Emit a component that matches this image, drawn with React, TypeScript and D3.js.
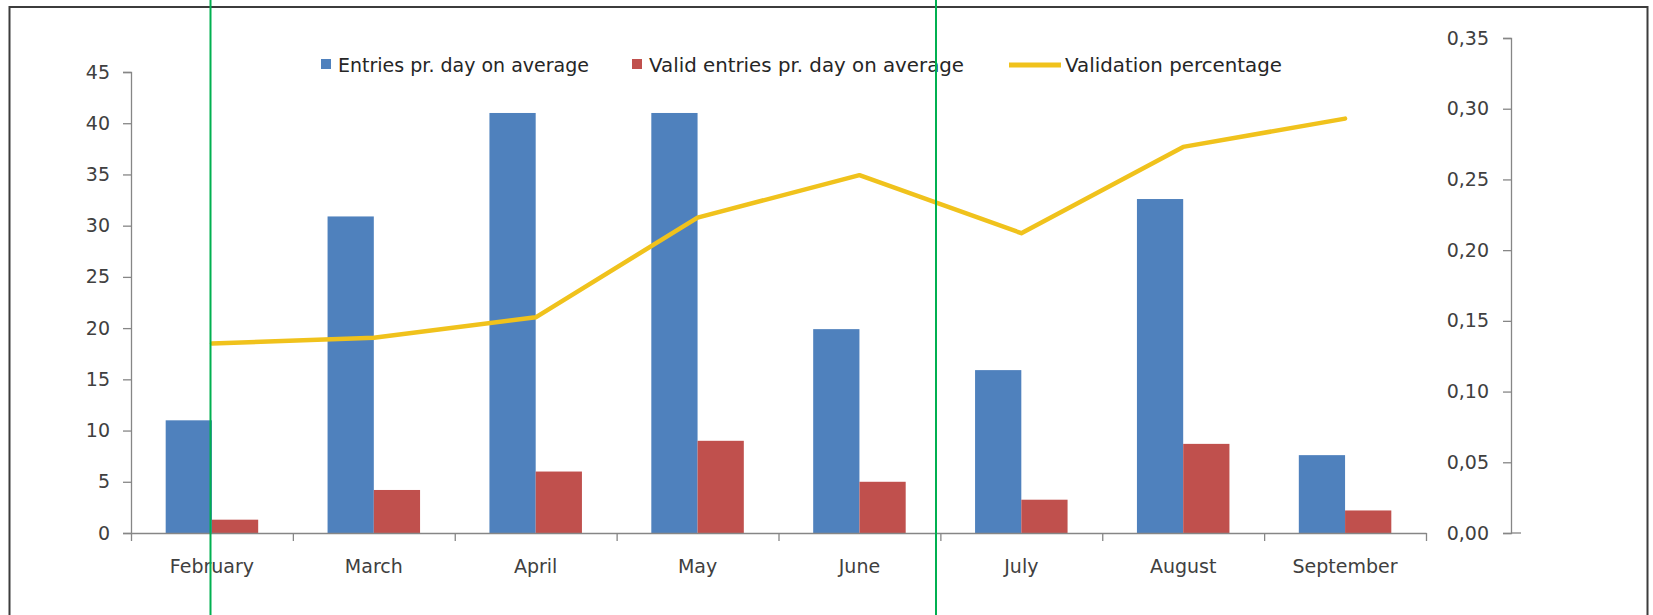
import { useRef, useEffect } from "react";
import { select, axisLeft, axisBottom, scaleLinear, scaleBand, line, format } from "d3";

const categories = ["February", "March", "April", "May", "June", "July", "August", "September"];
const entries = [11.0, 30.9, 41.0, 41.0, 19.9, 15.9, 32.6, 7.6];
const validEntries = [1.3, 4.2, 6.0, 9.0, 5.0, 3.25, 8.7, 2.2];
const validation = [0.134, 0.138, 0.1525, 0.223, 0.253, 0.212, 0.273, 0.293];
const leftTicks = [0, 5, 10, 15, 20, 25, 30, 35, 40, 45];
const rightTicks = [0, 0.05, 0.1, 0.15, 0.2, 0.25, 0.3, 0.35];
const seriesNames = ["Entries pr. day on average", "Valid entries pr. day on average", "Validation percentage"];

const W = 1653;
const H = 615;
const BLUE = "#4f81bd";
const RED = "#c0504d";
const GOLD = "#f0c21c";
const AXIS = "#868686";
const TEXT = "#404040";
const FONT = "DejaVu Sans, Verdana, sans-serif";

// plot area
const left = 131;
const right = 1426;
const bottom = 533;
const rightAxisX = 1511;

const x = scaleBand<string>()
  .domain(categories)
  .range([left, right])
  .paddingInner(1.5 / 3.5)
  .paddingOuter(0.75 / 3.5);

const xSub = scaleBand<string>().domain(["entries", "valid"]).range([0, x.bandwidth()]);

const xEdges = scaleLinear().domain([0, categories.length]).range([left, right]);

const yLeft = scaleLinear().domain([0, 45]).range([bottom, 72]);
const yRight = scaleLinear().domain([0, 0.35]).range([bottom, 38]);

const comma = (v: number) => format(".2f")(v).replace(".", ",");

function styleAxis(g: any) {
  g.selectAll("path.domain").attr("stroke", AXIS).attr("stroke-width", 1.3);
  g.selectAll(".tick line").attr("stroke", AXIS).attr("stroke-width", 1.3);
  g.selectAll(".tick text")
    .attr("fill", TEXT)
    .style("font-family", FONT)
    .style("font-size", "19px");
}

export default function App() {
  const svgRef = useRef<SVGSVGElement>(null);

  useEffect(() => {
    document.body.style.margin = "0";
    document.body.style.overflow = "hidden";
    const svg = select(svgRef.current);

    const gl = svg.select<SVGGElement>("#y-left");
    gl.call(axisLeft(yLeft).tickValues(leftTicks).tickSize(8).tickSizeOuter(8).tickPadding(13) as any);
    styleAxis(gl);

    const gr = svg.select<SVGGElement>("#y-right");
    gr.call(
      axisLeft(yRight).tickValues(rightTicks).tickSize(8).tickSizeOuter(8).tickPadding(14).tickFormat(comma as any) as any
    );
    styleAxis(gr);

    const ge = svg.select<SVGGElement>("#x-edges");
    ge.call(
      axisBottom(xEdges)
        .tickValues(categories.map((_, i) => i).concat([categories.length]))
        .tickSize(8)
        .tickSizeOuter(0)
        .tickFormat(() => "") as any
    );
    styleAxis(ge);

    const gx = svg.select<SVGGElement>("#x-labels");
    gx.call(axisBottom(x).tickSize(0).tickPadding(27) as any);
    gx.select("path.domain").remove();
    styleAxis(gx);
  }, []);

  const linePath = line<number>()
    .x((_, i) => (x(categories[i]) as number) + x.bandwidth() / 2)
    .y((d) => yRight(d))(validation);

  return (
    <svg
      ref={svgRef}
      width={W}
      height={H}
      style={{ position: "fixed", left: 0, top: 0, background: "#fff" }}
    >
      <rect x={0} y={0} width={W} height={H} fill="#fff" />
      <rect x={9.5} y={7} width={1638} height={H + 20} fill="none" stroke="#3c3c3c" strokeWidth={2} />

      {categories.map((c, i) => (
        <g key={c}>
          <rect
            x={(x(c) as number) + (xSub("entries") as number)}
            y={yLeft(entries[i])}
            width={xSub.bandwidth()}
            height={bottom - yLeft(entries[i])}
            fill={BLUE}
          />
          <rect
            x={(x(c) as number) + (xSub("valid") as number)}
            y={yLeft(validEntries[i])}
            width={xSub.bandwidth()}
            height={bottom - yLeft(validEntries[i])}
            fill={RED}
          />
        </g>
      ))}

      <g id="y-left" transform={`translate(${left},0)`} />
      <g id="x-edges" transform={`translate(0,${bottom})`} />
      <g id="x-labels" transform={`translate(0,${bottom})`} />
      <g id="y-right" transform={`translate(${rightAxisX},0)`} />
      <line x1={rightAxisX} x2={rightAxisX + 10} y1={bottom} y2={bottom} stroke={AXIS} strokeWidth={1.3} />

      <path d={linePath ?? ""} fill="none" stroke={GOLD} strokeWidth={4.5} strokeLinejoin="round" strokeLinecap="round" />

      {/* legend */}
      <g style={{ fontFamily: FONT, fontSize: "19px" }} fill="#262626">
        <rect x={321} y={59} width={10} height={10} fill={BLUE} />
        <text x={338} y={72} textLength={251} lengthAdjust="spacingAndGlyphs">
          {seriesNames[0]}
        </text>
        <rect x={632} y={59} width={10} height={10} fill={RED} />
        <text x={649} y={72} textLength={315} lengthAdjust="spacingAndGlyphs">
          {seriesNames[1]}
        </text>
        <line x1={1009} x2={1061} y1={65} y2={65} stroke={GOLD} strokeWidth={5} />
        <text x={1065} y={72} textLength={217} lengthAdjust="spacingAndGlyphs">
          {seriesNames[2]}
        </text>
      </g>

      {/* green guide lines present in the reference */}
      <line x1={210.5} x2={210.5} y1={0} y2={H} stroke="#00b050" strokeWidth={2} />
      <line x1={936} x2={936} y1={0} y2={H} stroke="#00b050" strokeWidth={2} />
    </svg>
  );
}
